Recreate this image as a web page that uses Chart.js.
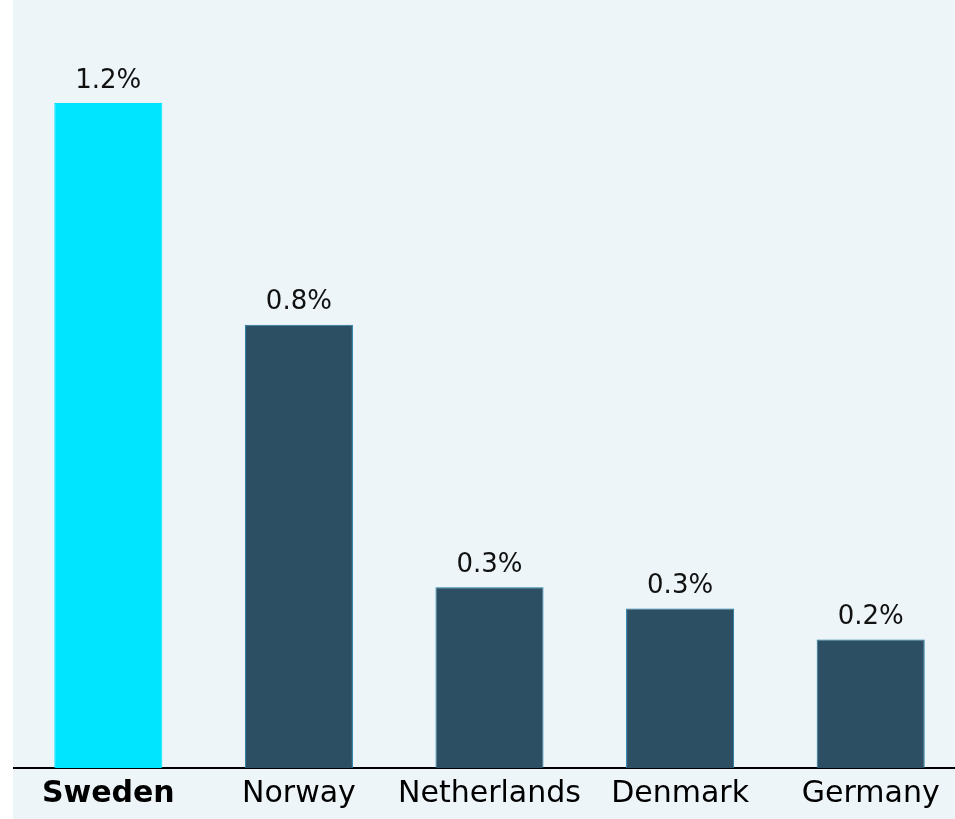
<!DOCTYPE html>
<html>
<head>
<meta charset="utf-8">
<script src="https://cdn.jsdelivr.net/npm/chart.js@4.4.1/dist/chart.umd.min.js"></script>
<style>
  html, body { margin: 0; padding: 0; background: #ffffff; overflow: hidden; }
  #wrap { position: absolute; left: 13px; top: 0; width: 953px; height: 819px; background: #edf5f8; }
</style>
</head>
<body>
<div id="wrap"><canvas id="shareChart"></canvas></div>
<script>
const countries = ['Sweden', 'Norway', 'Netherlands', 'Denmark', 'Germany'];
const shares = [1.2, 0.8, 0.326, 0.288, 0.232];
const barColors = ['#00e5ff', '#2d4f63', '#2d4f63', '#2d4f63', '#2d4f63'];
const borderColors = ['#00e5ff', '#1b7aa3', '#1b7aa3', '#1b7aa3', '#1b7aa3'];

const FONT = "'DejaVu Sans', sans-serif";

// Draw value labels above each bar
const valueLabels = {
    id: 'valueLabels',
    afterDatasetsDraw(chart) {
        const ctx = chart.ctx;
        const meta = chart.getDatasetMeta(0);
        ctx.save();
        ctx.font = `26px ${FONT}`;
        ctx.fillStyle = '#111111';
        ctx.textAlign = 'center';
        ctx.textBaseline = 'bottom';
        meta.data.forEach((bar, i) => {
            ctx.fillText(shares[i].toFixed(1) + '%', bar.x, bar.y - 9);
        });
        ctx.restore();
    }
};

document.addEventListener('DOMContentLoaded', () => {
    const ctx = document.getElementById('shareChart').getContext('2d');
    new Chart(ctx, {
        type: 'bar',
        data: {
            labels: countries,
            datasets: [{
                data: shares,
                backgroundColor: barColors,
                borderColor: borderColors,
                borderWidth: 1,
                barPercentage: 0.567,
                categoryPercentage: 1
            }]
        },
        options: {
            responsive: true,
            maintainAspectRatio: false,
            animation: false,
            layout: { padding: { left: 0, right: 0, top: 0, bottom: 7 } },
            plugins: {
                legend: { display: false },
                tooltip: { enabled: false }
            },
            scales: {
                x: {
                    grid: { display: false },
                    border: { display: true, color: '#000000', width: 2 },
                    ticks: {
                        color: '#000000',
                        padding: 0,
                        maxRotation: 0,
                        font: (c) => ({
                            family: FONT,
                            size: 30,
                            weight: c.index === 0 ? 'bold' : 'normal'
                        })
                    }
                },
                y: {
                    display: false,
                    min: 0,
                    max: 1.386
                }
            }
        },
        plugins: [valueLabels]
    });
});
</script>
</body>
</html>
